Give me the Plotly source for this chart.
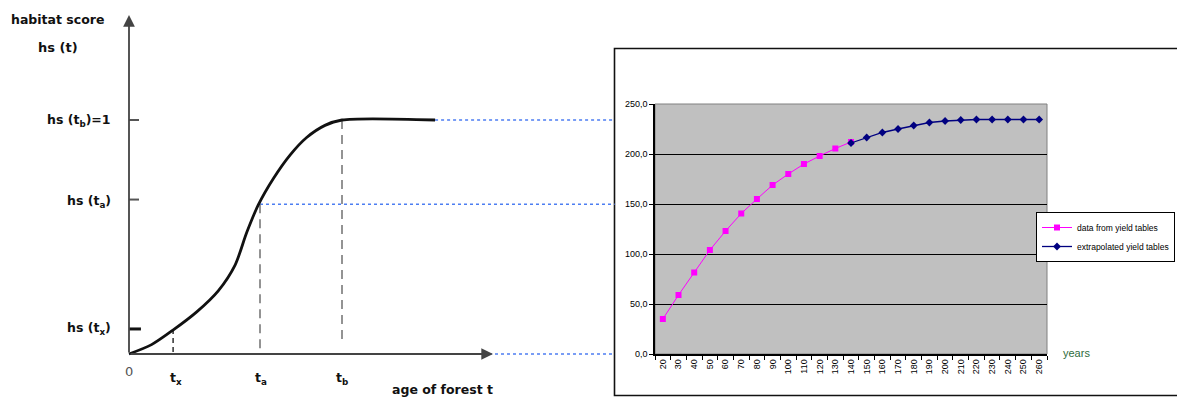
import plotly.graph_objects as go

# ---------------- data ----------------
# Left schematic: habitat score curve (age in arbitrary units, t_b = 100; hs scaled so hs(t_b) = 1)
curve_age = [0, 10.6, 20.8, 31.8, 41.9, 49.8, 55.3, 60.7, 67.8, 75.6, 83.4, 92.0, 100, 143.7]
curve_hs = [0, 0.04, 0.103, 0.18, 0.27, 0.38, 0.52, 0.637, 0.75, 0.85, 0.925, 0.977, 1.0, 1.0]
T_X, T_A, T_B = 20.7, 61.5, 100.0
HS_X, HS_A, HS_B = 0.107, 0.64, 1.0
HS_A_TICK = 0.66
CONNECT_END = 228.0      # where the dotted guide lines meet the right panel
Y_ARROW_TOP = 1.449
X_ARROW_END = 170.9
TB_DASH_END = 0.047

# Right chart: yield table values
ages = [str(a) for a in range(20, 261, 10)]
yield_ages = [str(a) for a in range(20, 141, 10)]
yield_vals = [35, 59, 81.5, 104, 123, 140.5, 155, 169, 180, 190, 198, 205.5, 212]
extrap_ages = [str(a) for a in range(140, 261, 10)]
extrap_vals = [211, 216.5, 221.5, 225, 228.5, 231.5, 233, 234, 234.5, 234.5, 234.5, 234.5, 234.5]
y_ticks = [0, 50, 100, 150, 200, 250]
y_tick_text = ["0,0", "50,0", "100,0", "150,0", "200,0", "250,0"]

W, H = 1177, 401
BOLD = "DejaVu Sans"
ARIAL = "Liberation Sans"

fig = go.Figure()

# ---------- left schematic (axes x / y cover whole canvas, hidden) ----------
def lline(xs, ys, color, width, dash="solid"):
    fig.add_trace(go.Scatter(x=xs, y=ys, mode="lines", xaxis="x", yaxis="y",
                             line=dict(color=color, width=width, dash=dash),
                             showlegend=False, hoverinfo="skip"))

BLUE_DOT = "#4d7ef2"
# dotted guide lines to the right panel
lline([0, CONNECT_END], [0, 0], BLUE_DOT, 1.3, "dot")
lline([T_A, CONNECT_END], [HS_A, HS_A], BLUE_DOT, 1.3, "dot")
lline([curve_age[-1], CONNECT_END], [HS_B, HS_B], BLUE_DOT, 1.3, "dot")
# dashed verticals
lline([T_X, T_X], [HS_X, 0], "#111111", 1.3, "5px,4px")
lline([T_A, T_A], [HS_A, 0], "#888888", 1.8, "9px,6px")
lline([T_B, T_B], [HS_B, TB_DASH_END], "#888888", 1.8, "9px,6px")
# y-axis ticks
lline([0, 4.7], [HS_B, HS_B], "#555555", 2)
lline([0, 4.7], [HS_A_TICK, HS_A_TICK], "#555555", 2)
lline([0, 5.6], [HS_X, HS_X], "#111111", 3)
# curve
fig.add_trace(go.Scatter(x=curve_age, y=curve_hs, mode="lines", xaxis="x", yaxis="y",
                         line=dict(color="#111111", width=2.8, shape="spline", smoothing=0.8),
                         showlegend=False, hoverinfo="skip"))

# axis arrows
for (hx, hy) in [(0, Y_ARROW_TOP), (X_ARROW_END, 0)]:
    fig.add_annotation(x=hx, y=hy, ax=0, ay=0, xref="x", yref="y", axref="x", ayref="y",
                       showarrow=True, arrowhead=2, arrowsize=1.3, arrowwidth=1.8,
                       arrowcolor="#444444", text="")

def ltext(text, x, y, xanchor="right", xshift=0, yshift=0, size=12.5, color="#111111", bold=True):
    fig.add_annotation(x=x, y=y, xref="x", yref="y", text=(f"<b>{text}</b>" if bold else text),
                       showarrow=False, xanchor=xanchor, yanchor="middle",
                       xshift=xshift, yshift=yshift,
                       font=dict(family=BOLD, size=size, color=color))

ltext("hs (t<sub>b</sub>)=1", 0, HS_B, xshift=-16)
ltext("hs (t<sub>a</sub>)", 0, HS_A_TICK, xshift=-16, yshift=-2)
ltext("hs (t<sub>x</sub>)", 0, HS_X, xshift=-16)
ltext("0", 0, 0, xanchor="center", yshift=-17, size=13, color="#555555", bold=False)
ltext("t<sub>x</sub>", T_X, 0, xanchor="center", xshift=3, yshift=-24)
ltext("t<sub>a</sub>", T_A, 0, xanchor="center", xshift=1, yshift=-24)
ltext("t<sub>b</sub>", T_B, 0, xanchor="center", yshift=-24)

def ptext(text, px, py, xanchor="left", size=12.5, color="#111111", family=BOLD, bold=True):
    fig.add_annotation(x=px / W, y=1 - py / H, xref="paper", yref="paper",
                       text=(f"<b>{text}</b>" if bold else text), showarrow=False,
                       xanchor=xanchor, yanchor="middle",
                       font=dict(family=family, size=size, color=color))

ptext("habitat score", 9, 19)
ptext("hs (t)", 36, 48, size=13)
ptext("age of forest t", 495, 389, xanchor="right")

# ---------- right chart ----------
fig.add_trace(go.Scatter(x=yield_ages, y=yield_vals, mode="lines+markers", name="data from yield tables",
                         xaxis="x2", yaxis="y2",
                         line=dict(color="#ff00ff", width=1),
                         marker=dict(symbol="square", size=6, color="#ff00ff")))
fig.add_trace(go.Scatter(x=extrap_ages, y=extrap_vals, mode="lines+markers", name="extrapolated yield tables",
                         xaxis="x2", yaxis="y2",
                         line=dict(color="#000080", width=1.3),
                         marker=dict(symbol="diamond", size=6, color="#000080")))

# outer chart box and grey plot area
fig.add_shape(type="rect", xref="paper", yref="paper", x0=614.5 / W, x1=1.01,
              y0=1 - 395.5 / H, y1=1 - 48.5 / H, line=dict(color="#111111", width=1.6),
              fillcolor="rgba(0,0,0,0)", layer="below")
fig.add_shape(type="rect", xref="x2 domain", yref="y2 domain", x0=0, x1=1, y0=0, y1=1,
              fillcolor="#c0c0c0", line=dict(color="#808080", width=1), layer="below")

ptext("years", 1061, 353, size=11, color="#2e6b3c", family=ARIAL, bold=False)

fig.update_layout(
    width=W, height=H,
    margin=dict(l=0, r=0, t=0, b=0, autoexpand=False),
    paper_bgcolor="white", plot_bgcolor="rgba(0,0,0,0)",
    xaxis=dict(domain=[0, 1], range=[-129 / 2.13, (W - 129) / 2.13], visible=False, fixedrange=True),
    yaxis=dict(domain=[0, 1], range=[(354 - H) / 234, 354 / 234], visible=False, fixedrange=True),
    xaxis2=dict(domain=[655 / W, 1047 / W], anchor="y2", type="category",
                categoryorder="array", categoryarray=ages, range=[-0.5, len(ages) - 0.5],
                tickson="boundaries", ticks="outside", ticklen=4, tickcolor="black", tickwidth=1,
                tickangle=-90, showgrid=False, showline=True, linecolor="black", linewidth=1.5,
                tickfont=dict(family=ARIAL, size=9, color="black")),
    yaxis2=dict(domain=[1 - 354 / H, 1 - 104 / H], anchor="x2", range=[0, 250],
                tickvals=y_ticks, ticktext=y_tick_text, ticks="outside", ticklen=4,
                tickcolor="black", showgrid=True, gridcolor="#000000", gridwidth=1,
                showline=True, linecolor="black", linewidth=1.5, zeroline=False,
                tickfont=dict(family=ARIAL, size=9, color="black")),
    legend=dict(x=1036 / W, y=1 - 212 / H, xanchor="left", yanchor="top",
                bgcolor="white", bordercolor="black", borderwidth=1,
                font=dict(family=ARIAL, size=8.5, color="black"),
                itemwidth=30, tracegroupgap=0),
    showlegend=True,
)

fig.write_html("out.html", config={"displayModeBar": False},
               post_script="document.body.style.margin='0px';document.body.style.overflow='hidden';")
